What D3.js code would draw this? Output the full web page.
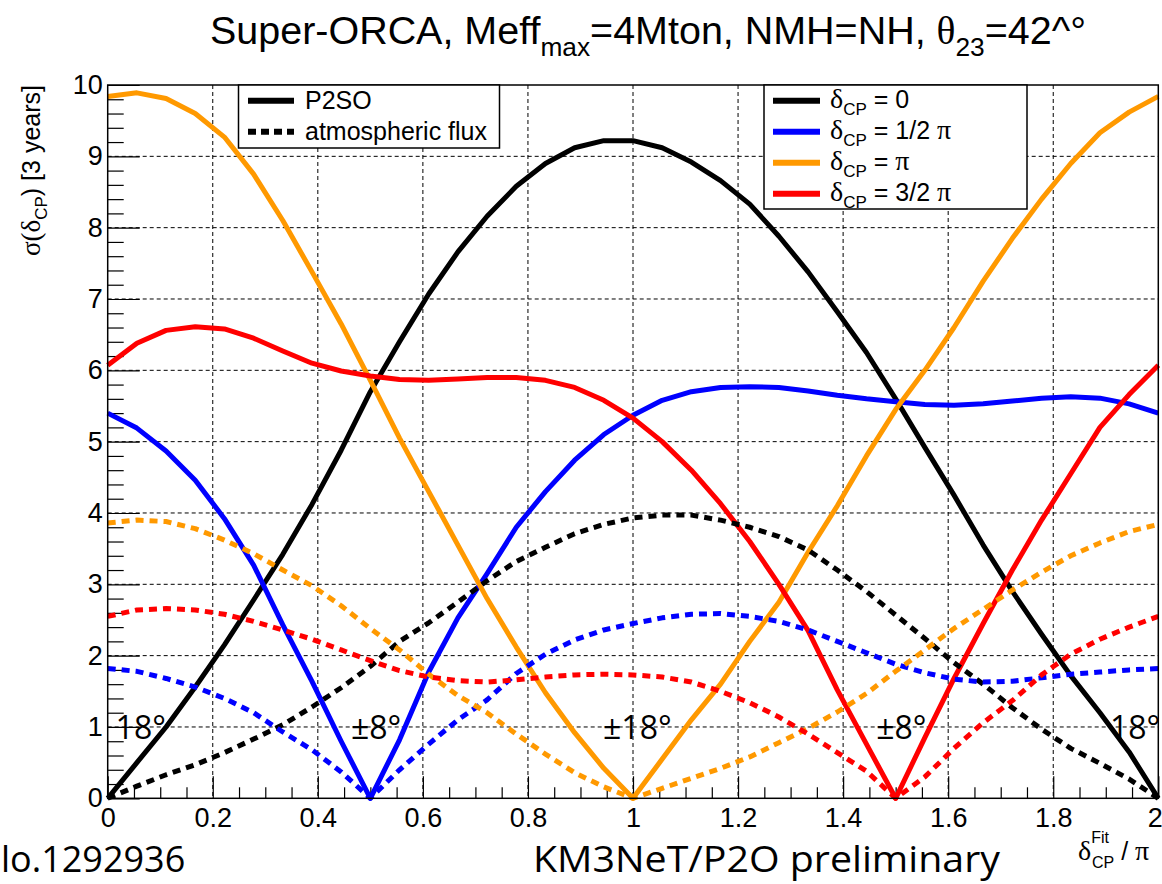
<!DOCTYPE html>
<html><head><meta charset="utf-8">
<script src="https://cdn.jsdelivr.net/npm/d3@7"></script>
<style>body{margin:0;background:#fff} svg{display:block}</style>
</head><body>
<svg id="chart" width="1162" height="884"></svg>
<script>
// delta_CP^Fit grid (degrees), 10 degree steps
const deltaFitDeg = [0,10,20,30,40,50,60,70,80,90,100,110,120,130,140,150,160,170,180,
  190,200,210,220,230,240,250,260,270,280,290,300,310,320,330,340,350,360];

// P2SO (solid)
const p2so_0 = [0,0.5,1.0,1.56,2.15,2.78,3.42,4.12,4.88,5.7,6.4,7.07,7.66,8.16,8.58,8.9,9.12,9.22,9.22,
  9.12,8.92,8.66,8.33,7.88,7.38,6.82,6.25,5.6,4.92,4.25,3.55,2.9,2.3,1.72,1.2,0.65,0];
const p2so_half = [5.4,5.19,4.87,4.46,3.92,3.27,2.43,1.64,0.8,0,0.82,1.77,2.53,3.15,3.8,4.3,4.74,5.1,5.37,
  5.58,5.7,5.76,5.77,5.76,5.71,5.65,5.6,5.56,5.52,5.51,5.53,5.57,5.61,5.63,5.61,5.53,5.4];
const p2so_pi = [9.84,9.89,9.81,9.6,9.27,8.75,8.1,7.38,6.65,5.86,5.05,4.3,3.55,2.8,2.12,1.48,0.92,0.42,0,
  0.55,1.1,1.6,2.2,2.75,3.45,4.1,4.8,5.45,6.0,6.6,7.25,7.85,8.4,8.9,9.33,9.62,9.84];
const p2so_3half = [6.07,6.38,6.56,6.61,6.58,6.45,6.27,6.1,5.99,5.92,5.87,5.86,5.88,5.9,5.9,5.86,5.76,5.58,5.33,
  5.0,4.6,4.13,3.6,3.0,2.35,1.52,0.76,0,0.85,1.68,2.45,3.2,3.9,4.55,5.2,5.66,6.07];

// atmospheric flux (dotted)
const atm_0 = [0,0.17,0.33,0.47,0.64,0.83,1.03,1.28,1.55,1.85,2.2,2.46,2.75,3.05,3.32,3.52,3.71,3.84,3.93,
  3.97,3.97,3.9,3.8,3.67,3.48,3.2,2.9,2.57,2.24,1.9,1.6,1.27,0.97,0.7,0.49,0.27,0];
const atm_half = [1.82,1.78,1.68,1.56,1.4,1.2,0.93,0.68,0.37,0,0.4,0.76,1.1,1.38,1.75,2.02,2.22,2.36,2.45,
  2.53,2.58,2.59,2.55,2.48,2.36,2.2,2.04,1.88,1.76,1.67,1.63,1.64,1.69,1.74,1.77,1.8,1.82];
const atm_pi = [3.86,3.9,3.88,3.78,3.62,3.43,3.2,2.98,2.7,2.38,2.08,1.74,1.44,1.2,0.9,0.62,0.36,0.16,0,
  0.14,0.28,0.42,0.58,0.78,0.98,1.21,1.47,1.78,2.08,2.38,2.65,2.92,3.17,3.4,3.58,3.74,3.84];
const atm_3half = [2.55,2.64,2.66,2.64,2.58,2.48,2.36,2.23,2.08,1.93,1.79,1.7,1.65,1.63,1.66,1.7,1.73,1.74,1.73,
  1.7,1.63,1.5,1.34,1.14,0.9,0.64,0.38,0,0.3,0.7,1.06,1.37,1.73,2.02,2.23,2.4,2.55];

const xTicks = [0,0.2,0.4,0.6,0.8,1,1.2,1.4,1.6,1.8,2];
const xTickLabels = ["0","0.2","0.4","0.6","0.8","1","1.2","1.4","1.6","1.8","2"];
const yTicks = [0,1,2,3,4,5,6,7,8,9,10];
const yTickLabels = ["0","1","2","3","4","5","6","7","8","9","10"];

const seriesColors = ["#000000","#0000ff","#ff9900","#ff0000"];
const legendTrue = ["0","1/2 \u03c0","\u03c0","3/2 \u03c0"];
const annotations = [
  {x:0.015, text:"18\u00b0"},
  {x:0.463, text:"\u00b18\u00b0"},
  {x:0.943, text:"\u00b118\u00b0"},
  {x:1.463, text:"\u00b18\u00b0"},
  {x:1.908, text:"18\u00b0"}
];

const svg = d3.select("#chart");
const W = 1162, H = 884;
const L = 107.7, R = 1158.3, T = 85, B = 798.3;
const x = d3.scaleLinear().domain([0,2]).range([L,R]);
const y = d3.scaleLinear().domain([0,10]).range([B,T]);
const SANS = "'Liberation Sans', Arial, Helvetica, sans-serif";
const SERIF = "'Liberation Serif', 'Times New Roman', serif";

svg.append("rect").attr("width",W).attr("height",H).attr("fill","#fff");

// grid
const grid = svg.append("g").attr("stroke","#000").attr("stroke-width",1).attr("stroke-dasharray","4,3");
grid.selectAll(".gx").data(xTicks.slice(1,-1)).join("line")
  .attr("x1",d=>x(d)).attr("x2",d=>x(d)).attr("y1",T).attr("y2",B);
grid.selectAll(".gy").data(yTicks.slice(1,-1)).join("line")
  .attr("y1",d=>y(d)).attr("y2",d=>y(d)).attr("x1",L).attr("x2",R);

// axes
const xMinor = d3.range(0,2.0001,0.05).filter(v=>Math.abs(v/0.2-Math.round(v/0.2))>1e-6);
const yMinor = d3.range(0,10.0001,0.2).filter(v=>Math.abs(v-Math.round(v))>1e-6);

svg.append("g").attr("transform",`translate(0,${B})`)
  .call(d3.axisBottom(x).tickValues(xTicks).tickSize(-22).tickPadding(10)
    .tickFormat((d,i)=>xTickLabels[i]));
svg.append("g").attr("transform",`translate(0,${B})`)
  .call(d3.axisBottom(x).tickValues(xMinor).tickSize(-11).tickFormat(""));
svg.append("g").attr("transform",`translate(${L},0)`)
  .call(d3.axisLeft(y).tickValues(yTicks).tickSize(-32).tickPadding(5)
    .tickFormat((d,i)=>yTickLabels[i]));
svg.append("g").attr("transform",`translate(${L},0)`)
  .call(d3.axisLeft(y).tickValues(yMinor).tickSize(-16).tickFormat(""));
svg.selectAll(".domain").remove();
svg.selectAll(".tick line").attr("stroke","#000").attr("stroke-width",1.2);
svg.selectAll(".tick text").attr("font-family",SANS).attr("font-size",27).attr("fill","#000");
// keep the last x label inside the picture
svg.selectAll(".tick text").filter(function(){ return this.textContent === "2" && this.getAttribute("dy") === "0.71em"; })
  .attr("text-anchor","end").attr("x",4);

// curves
const line = d3.line().x((d,i)=>x(deltaFitDeg[i]/180)).y(d=>y(d));
const solids = [p2so_0,p2so_half,p2so_pi,p2so_3half];
const dotted = [atm_0,atm_half,atm_pi,atm_3half];
const curves = svg.append("g").attr("fill","none").attr("stroke-width",5).attr("stroke-linejoin","round");
solids.forEach((s,i)=>curves.append("path").datum(s).attr("d",line).attr("stroke",seriesColors[i]));
dotted.forEach((s,i)=>curves.append("path").datum(s).attr("d",line).attr("stroke",seriesColors[i])
  .attr("stroke-dasharray","8,6"));

// frame
svg.append("rect").attr("x",L).attr("y",T).attr("width",R-L).attr("height",B-T)
  .attr("fill","none").attr("stroke","#000").attr("stroke-width",1.5);

// annotations
svg.append("g").selectAll("text").data(annotations).join("text")
  .attr("x",d=>x(d.x)).attr("y",y(0.83))
  .attr("font-family","'Open Sans', sans-serif").attr("font-size",32).attr("fill","#000")
  .text(d=>d.text);

// legend 1
const lg1 = svg.append("g");
lg1.append("rect").attr("x",238.5).attr("y",T).attr("width",261).attr("height",63)
  .attr("fill","#fff").attr("stroke","#000").attr("stroke-width",1.5);
lg1.append("line").attr("x1",248).attr("x2",294).attr("y1",100.7).attr("y2",100.7)
  .attr("stroke","#000").attr("stroke-width",6);
lg1.append("line").attr("x1",248).attr("x2",294).attr("y1",131.7).attr("y2",131.7)
  .attr("stroke","#000").attr("stroke-width",6).attr("stroke-dasharray","8,5");
lg1.append("text").attr("x",305).attr("y",109).attr("font-family",SANS).attr("font-size",25).text("P2SO");
lg1.append("text").attr("x",305).attr("y",140).attr("font-family",SANS).attr("font-size",25).text("atmospheric flux");

// legend 2
const lg2 = svg.append("g");
lg2.append("rect").attr("x",764).attr("y",T).attr("width",263).attr("height",124)
  .attr("fill","#fff").attr("stroke","#000").attr("stroke-width",1.5);
legendTrue.forEach((lab,i)=>{
  const yy = 100.7 + i*31;
  lg2.append("line").attr("x1",773).attr("x2",820).attr("y1",yy).attr("y2",yy)
    .attr("stroke",seriesColors[i]).attr("stroke-width",6);
  const t = lg2.append("text").attr("x",830).attr("y",yy+7).attr("font-family",SANS).attr("font-size",25);
  t.append("tspan").attr("font-family",SERIF).attr("font-size",28).text("\u03b4");
  t.append("tspan").attr("font-size",17).attr("dy",7).text("CP");
  const parts = lab.split("\u03c0");
  t.append("tspan").attr("dy",-7).text(" = " + parts[0]);
  if (parts.length > 1) t.append("tspan").attr("font-family",SERIF).attr("font-size",28).text("\u03c0");
});

// title
const title = svg.append("text").attr("x",210).attr("y",44).attr("font-family",SANS).attr("font-size",39)
  .attr("textLength",876).attr("lengthAdjust","spacingAndGlyphs");
title.append("tspan").text("Super-ORCA, Meff");
title.append("tspan").attr("font-size",26).attr("dy",12).text("max");
title.append("tspan").attr("dy",-12).text("=4Mton, NMH=NH, ");
title.append("tspan").attr("font-family",SERIF).text("\u03b8");
title.append("tspan").attr("font-size",26).attr("dy",12).text("23");
title.append("tspan").attr("dy",-12).text("=42^\u00b0");

// y axis title
const yt = svg.append("text").attr("transform","translate(40,85) rotate(-90)")
  .attr("text-anchor","end").attr("font-family",SANS).attr("font-size",25);
yt.append("tspan").attr("font-family",SERIF).attr("font-size",27).text("\u03c3(\u03b4");
yt.append("tspan").attr("font-size",17).attr("dy",7).text("CP");
yt.append("tspan").attr("dy",-7).text(") [3 years]");

// x axis title
const xt = svg.append("text").attr("x",1078).attr("y",860).attr("font-family",SANS).attr("font-size",25);
xt.append("tspan").attr("font-family",SERIF).attr("font-size",28).text("\u03b4");
xt.append("tspan").attr("font-size",16).attr("dy",-17).text("Fit");
xt.append("tspan").attr("font-size",16).attr("x",1092).attr("dy",25).text("CP");
xt.append("tspan").attr("dy",-8).text(" / ");
xt.append("tspan").attr("font-family",SERIF).attr("font-size",28).text("\u03c0");

// footer texts
svg.append("text").attr("x",1).attr("y",872).attr("font-family","'Open Sans', sans-serif")
  .attr("font-size",36).text("lo.1292936");
svg.append("text").attr("x",533).attr("y",872).attr("font-family","'Open Sans', sans-serif")
  .attr("font-size",36).attr("textLength",467).attr("lengthAdjust","spacingAndGlyphs")
  .text("KM3NeT/P2O preliminary");
</script>
</body></html>
